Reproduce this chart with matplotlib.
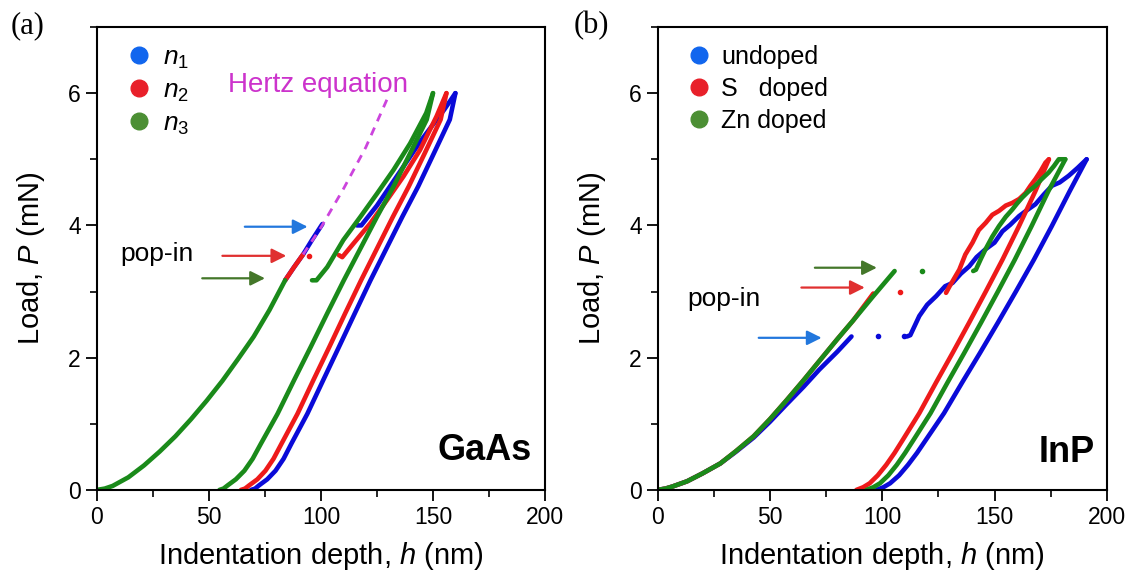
import matplotlib
matplotlib.use("Agg")
import matplotlib.pyplot as plt
from matplotlib.lines import Line2D
from matplotlib.ticker import MultipleLocator

plt.rcParams['font.family'] = ['Liberation Sans', 'DejaVu Sans']
plt.rcParams['mathtext.fontset'] = 'custom'
plt.rcParams['mathtext.rm'] = 'Liberation Sans'
plt.rcParams['mathtext.it'] = 'Liberation Sans:italic'

# ---------------- GaAs (a) ----------------
# shared loading branch up to each pop-in
a_load_h = [0, 3.5, 7, 14, 21, 28, 35, 42, 49, 56, 63, 70, 77, 84]
a_load_p = [0, 0.02, 0.06, 0.19, 0.37, 0.58, 0.81, 1.07, 1.35, 1.65, 1.98, 2.32, 2.72, 3.17]
a_red_ext_h = [84, 88, 92]
a_red_ext_p = [3.17, 3.37, 3.56]
a_blue_ext_h = [84, 88, 92, 96, 100.6]
a_blue_ext_p = [3.17, 3.37, 3.56, 3.78, 4.02]

# after pop-in (reloading)
a_g_post_h = [96, 98, 102.8, 110, 117.6, 125, 132.4, 139.8, 147, 150]
a_g_post_p = [3.17, 3.17, 3.37, 3.78, 4.13, 4.48, 4.84, 5.24, 5.7, 6.0]
a_r_post_h = [108, 109.5, 114.6, 122, 129.4, 136.8, 144.2, 151.6, 156]
a_r_post_p = [3.55, 3.52, 3.73, 4.03, 4.38, 4.74, 5.14, 5.65, 6.0]
a_b_post_h = [116, 118, 125, 135, 145, 155, 160]
a_b_post_p = [4.0, 4.0, 4.3, 4.8, 5.3, 5.75, 6.0]

# unloading
a_g_un_h = [150, 147.2, 139.8, 132.4, 125, 117.6, 110.2, 102.8, 95.4, 88, 80.6, 73.2, 69.5, 65.8, 62, 58.4, 56.5, 54.7]
a_g_un_p = [6.0, 5.6, 5.09, 4.59, 4.13, 3.65, 3.17, 2.67, 2.16, 1.66, 1.15, 0.70, 0.47, 0.29, 0.16, 0.07, 0.02, 0]
a_r_un_h = [156, 153.4, 146.3, 139.2, 132.1, 125.0, 117.9, 110.8, 103.7, 96.6, 89.5, 82.4, 78.8, 75.2, 71.6, 68.0, 66.1, 64.3]
a_r_un_p = [6.0, 5.6, 5.09, 4.59, 4.13, 3.65, 3.17, 2.67, 2.16, 1.66, 1.15, 0.70, 0.47, 0.29, 0.16, 0.07, 0.02, 0]
a_b_un_h = [160, 157.5, 150.4, 143.4, 136.3, 129.2, 122.1, 115.1, 108.0, 101.0, 93.9, 86.8, 83.3, 79.7, 76.0, 72.4, 70.6, 68.8]
a_b_un_p = [6.0, 5.6, 5.09, 4.59, 4.13, 3.65, 3.17, 2.67, 2.16, 1.66, 1.15, 0.70, 0.47, 0.29, 0.16, 0.07, 0.02, 0]

# Hertz fit (dashed)
hertz_h = [92, 100, 110, 120, 129.4]
hertz_p = [3.56, 3.97, 4.55, 5.18, 5.9]

# pop-in dots
a_dot_h = [94.5]
a_dot_p = [3.53]

# ---------------- InP (b) ----------------
b_load_h = [0, 3.5, 6.5, 13.1, 20, 27.9, 35, 42.7, 50, 57.5, 65, 72, 80, 87, 96, 105.5]
b_load_p = [0, 0.02, 0.05, 0.13, 0.25, 0.40, 0.59, 0.81, 1.07, 1.36, 1.66, 1.95, 2.28, 2.56, 2.93, 3.31]
b_red_load_h = [0, 3.5, 6.5, 13.1, 20, 27.9, 35, 42.7, 50, 57.5, 65, 72, 80, 87, 96]
b_red_load_p = [0, 0.02, 0.05, 0.13, 0.25, 0.40, 0.59, 0.81, 1.07, 1.36, 1.66, 1.95, 2.28, 2.56, 2.97]
b_blue_load_h = [0, 3.5, 6.5, 13.1, 20, 27.9, 35, 42.7, 50, 57, 65, 72, 80, 86.3]
b_blue_load_p = [0, 0.02, 0.05, 0.13, 0.25, 0.40, 0.58, 0.79, 1.03, 1.28, 1.56, 1.82, 2.09, 2.32]

b_b_post_h = [111, 112.5, 116.5, 120, 124, 128, 131.3, 135, 138.7, 142, 146, 150, 153.5, 157, 160.9, 164, 168.2, 172, 175.6, 179, 183, 187, 191]
b_b_post_p = [2.32, 2.34, 2.63, 2.8, 2.93, 3.08, 3.13, 3.27, 3.38, 3.52, 3.64, 3.74, 3.91, 4.01, 4.14, 4.22, 4.32, 4.47, 4.6, 4.65, 4.75, 4.87, 5.0]
b_r_post_h = [128.4, 130, 134.3, 137, 140.2, 143, 146.1, 149, 152, 155, 157.9, 161, 163.8, 166, 168.2, 170.5, 172.7, 174.2]
b_r_post_p = [2.98, 3.08, 3.33, 3.56, 3.74, 3.93, 4.04, 4.16, 4.22, 4.3, 4.34, 4.4, 4.49, 4.6, 4.7, 4.82, 4.95, 5.0]
b_g_post_h = [140.5, 141.7, 144, 146, 149, 152, 155, 157.9, 160, 162.3, 165, 168.2, 171, 174.1, 176.5, 178.6, 181.5]
b_g_post_p = [3.31, 3.33, 3.5, 3.64, 3.83, 3.99, 4.13, 4.24, 4.33, 4.42, 4.51, 4.6, 4.7, 4.8, 4.9, 5.0, 5.0]

b_r_un_h = [174.2, 168.2, 160.9, 153.5, 146.1, 138.7, 131.3, 123.9, 116.5, 109.2, 105.5, 101.8, 98, 94.4, 91.5, 88.5]
b_r_un_p = [5.0, 4.52, 3.99, 3.48, 3.0, 2.53, 2.07, 1.62, 1.16, 0.76, 0.56, 0.38, 0.22, 0.10, 0.04, 0]
b_g_un_h = [181.5, 174, 166.5, 159, 151.5, 144, 136.5, 129, 121.5, 114, 110.2, 106.5, 102.7, 99, 96, 93]
b_g_un_p = [5.0, 4.52, 3.99, 3.48, 3.0, 2.53, 2.07, 1.62, 1.16, 0.76, 0.56, 0.38, 0.22, 0.10, 0.04, 0]
b_b_un_h = [191, 183.5, 175.5, 167.5, 159.5, 151.5, 143.5, 135.5, 127.5, 119.5, 115.5, 111.5, 107.5, 103.5, 100.5, 97.5]
b_b_un_p = [5.0, 4.52, 3.99, 3.48, 3.0, 2.53, 2.07, 1.62, 1.16, 0.76, 0.56, 0.38, 0.22, 0.10, 0.04, 0]

b_dot_h = [98.2, 109.5, 107.7, 117.7]
b_dot_p = [2.32, 2.32, 2.99, 3.31]
b_dot_c = ['blue', 'blue', 'red', 'green']

# colours
c_line = {'blue': '#0a0ad8', 'red': '#ee1a1a', 'green': '#1a8a1a'}
c_leg = {'blue': '#1166ee', 'red': '#e8202a', 'green': '#4c8f34'}
c_arrow = {'blue': '#2277dd', 'red': '#e03030', 'green': '#44772a'}

lw = 3.3

fig = plt.figure(figsize=(11.3, 5.75), dpi=100)
axa = fig.add_axes([0.0858, 0.148, 0.3965, 0.805])
axb = fig.add_axes([0.582, 0.148, 0.3975, 0.805])


def style_axes(ax):
    ax.set_xlim(0, 200)
    ax.set_ylim(0, 7)
    ax.xaxis.set_major_locator(MultipleLocator(50))
    ax.xaxis.set_minor_locator(MultipleLocator(25))
    ax.yaxis.set_major_locator(MultipleLocator(2))
    ax.yaxis.set_minor_locator(MultipleLocator(1))
    ax.tick_params(which='major', direction='out', length=8, width=1.3, labelsize=16.5)
    ax.tick_params(which='minor', direction='out', length=5, width=1.2)
    for s in ax.spines.values():
        s.set_linewidth(1.5)
    ax.set_xlabel('Indentation depth, $\\mathit{h}$ (nm)', fontsize=21, labelpad=8)
    ax.set_ylabel('Load, $\\mathit{P}$ (mN)', fontsize=21, labelpad=15)


def arrow(ax, x0, x1, y, col):
    ax.annotate('', xy=(x1, y), xytext=(x0, y),
                arrowprops=dict(arrowstyle='-|>', color=c_arrow[col], lw=1.6,
                                mutation_scale=22, shrinkA=0, shrinkB=0))


# ---- panel (a)
ax = axa
ax.plot(a_blue_ext_h, a_blue_ext_p, color=c_line['blue'], lw=lw, solid_capstyle='round')
ax.plot(a_b_post_h, a_b_post_p, color=c_line['blue'], lw=lw, solid_capstyle='round')
ax.plot(a_b_un_h, a_b_un_p, color=c_line['blue'], lw=lw, solid_capstyle='round')
ax.plot(a_red_ext_h, a_red_ext_p, color=c_line['red'], lw=lw, solid_capstyle='round')
ax.plot(a_r_post_h, a_r_post_p, color=c_line['red'], lw=lw, solid_capstyle='round')
ax.plot(a_r_un_h, a_r_un_p, color=c_line['red'], lw=lw, solid_capstyle='round')
ax.plot(a_load_h, a_load_p, color=c_line['green'], lw=lw, solid_capstyle='round')
ax.plot(a_g_post_h, a_g_post_p, color=c_line['green'], lw=lw, solid_capstyle='round')
ax.plot(a_g_un_h, a_g_un_p, color=c_line['green'], lw=lw, solid_capstyle='round')
ax.plot(hertz_h, hertz_p, color='#cc44dd', lw=2, ls=(0, (3, 2.5)))
ax.plot(a_dot_h, a_dot_p, 'o', color=c_line['red'], ms=3)

ax.text(58.5, 6.12, 'Hertz equation', color='#cc33cc', fontsize=20, va='center')
ax.text(10.5, 3.57, 'pop-in', fontsize=19, va='center')
arrow(ax, 66, 94, 3.98, 'blue')
arrow(ax, 56, 84.5, 3.54, 'red')
arrow(ax, 47, 75, 3.2, 'green')
ax.text(194, 0.6, 'GaAs', fontsize=26, fontweight='bold', ha='right', va='center')

handles = [Line2D([], [], ls='none', marker='o', ms=12, color=c_leg[k]) for k in ['blue', 'red', 'green']]
ax.legend(handles, ['$\\mathit{n_1}$', '$\\mathit{n_2}$', '$\\mathit{n_3}$'], loc='upper left',
          frameon=False, fontsize=19, handlelength=0.8, handletextpad=0.5, labelspacing=0.3,
          borderaxespad=0.3, bbox_to_anchor=(0.03, 1.0))
style_axes(ax)

# ---- panel (b)
ax = axb
ax.plot(b_blue_load_h, b_blue_load_p, color=c_line['blue'], lw=lw, solid_capstyle='round')
ax.plot(b_b_post_h, b_b_post_p, color=c_line['blue'], lw=lw, solid_capstyle='round')
ax.plot(b_b_un_h, b_b_un_p, color=c_line['blue'], lw=lw, solid_capstyle='round')
ax.plot(b_red_load_h, b_red_load_p, color=c_line['red'], lw=lw, solid_capstyle='round')
ax.plot(b_r_post_h, b_r_post_p, color=c_line['red'], lw=lw, solid_capstyle='round')
ax.plot(b_r_un_h, b_r_un_p, color=c_line['red'], lw=lw, solid_capstyle='round')
ax.plot(b_g_un_h, b_g_un_p, color=c_line['green'], lw=lw, solid_capstyle='round')
ax.plot(b_load_h, b_load_p, color=c_line['green'], lw=lw, solid_capstyle='round')
ax.plot(b_g_post_h, b_g_post_p, color=c_line['green'], lw=lw, solid_capstyle='round')
for h, p, c in zip(b_dot_h, b_dot_p, b_dot_c):
    ax.plot(h, p, 'o', color=c_line[c], ms=3)

ax.text(13, 2.88, 'pop-in', fontsize=19, va='center')
arrow(ax, 70, 97.6, 3.36, 'green')
arrow(ax, 64, 92.2, 3.06, 'red')
arrow(ax, 45, 73, 2.30, 'blue')
ax.text(194.5, 0.57, 'InP', fontsize=26, fontweight='bold', ha='right', va='center')

ax.legend(handles, ['undoped', 'S   doped', 'Zn doped'], loc='upper left',
          frameon=False, fontsize=18, handlelength=0.8, handletextpad=0.5, labelspacing=0.33,
          borderaxespad=0.3, bbox_to_anchor=(0.03, 1.0))
style_axes(ax)

fig.text(0.009, 0.955, '(a)', fontsize=22, family='Liberation Serif', va='center')
fig.text(0.508, 0.955, '(b)', fontsize=22, family='Liberation Serif', va='center')

fig.savefig('out.png', dpi=100)
